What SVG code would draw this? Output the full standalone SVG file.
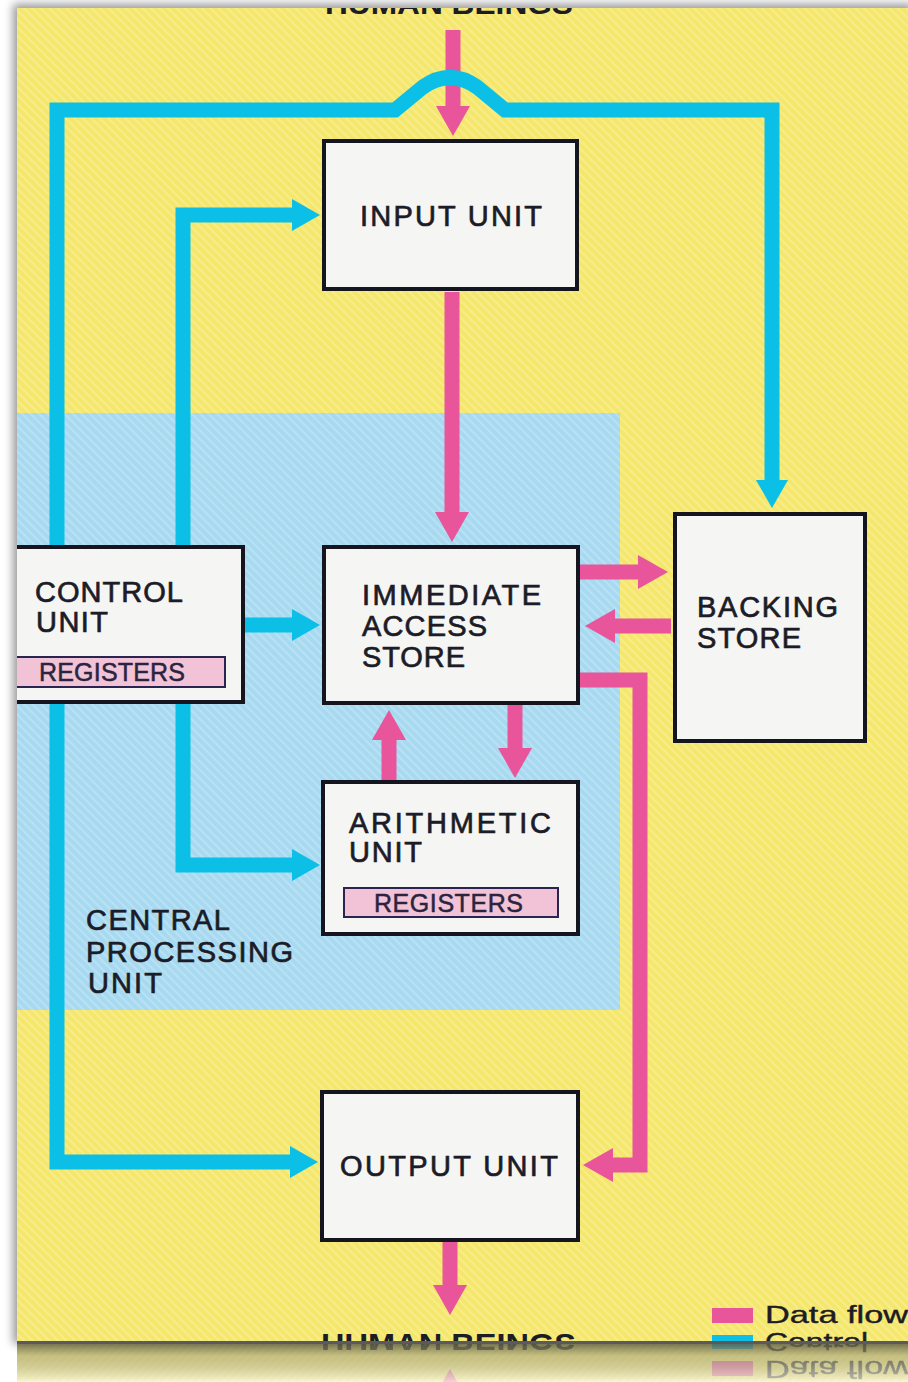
<svg xmlns="http://www.w3.org/2000/svg" xmlns:xlink="http://www.w3.org/1999/xlink" width="908" height="1382" viewBox="0 0 908 1382">
<defs>
<style>
.box{fill:#f5f5f3;stroke:#15151f;stroke-width:4}
.reg{fill:#f2c3d6;stroke:#2a2450;stroke-width:2}
.t{font-family:"Liberation Sans",Arial,sans-serif;font-size:29px;fill:#1c1c28;stroke:#1c1c28;stroke-width:0.7}
.ts{font-family:"Liberation Sans",Arial,sans-serif;font-size:25px;fill:#2a2440;stroke:#2a2440;stroke-width:0.5}
.hb{font-family:"Liberation Sans",Arial,sans-serif;font-size:30px;font-weight:bold;fill:#1c1c24}
.lg{font-family:"Liberation Sans",Arial,sans-serif;font-size:23px;fill:#1c1c24;stroke:#1c1c24;stroke-width:0.4}
.cy{fill:none;stroke:#0bbfe6;stroke-width:15;stroke-linejoin:miter}
.pk{fill:none;stroke:#e8559a;stroke-width:15;stroke-linejoin:miter}
</style>
<pattern id="hatch" width="6" height="6" patternUnits="userSpaceOnUse" patternTransform="rotate(45)">
<rect width="6" height="2" fill="#ffffff" opacity="0.22"/>
</pattern>
<marker id="ac" viewBox="0 0 28 32" markerWidth="28" markerHeight="32" refX="2" refY="16" orient="auto-start-reverse" markerUnits="userSpaceOnUse">
<path d="M0,0 L28,16 L0,32 z" fill="#0bbfe6"/>
</marker>
<marker id="ap" viewBox="0 0 30 34" markerWidth="30" markerHeight="34" refX="2" refY="17" orient="auto-start-reverse" markerUnits="userSpaceOnUse">
<path d="M0,0 L30,17 L0,34 z" fill="#e8559a"/>
</marker>
<clipPath id="sceneClip"><rect x="17" y="8" width="891" height="1334"/></clipPath>
<clipPath id="reflClip"><rect x="17" y="1342" width="891" height="40"/></clipPath>
<linearGradient id="reflGrad" x1="0" y1="0" x2="0" y2="1">
<stop offset="0" stop-color="#3c3c2c" stop-opacity="0.75"/>
<stop offset="0.35" stop-color="#5a5a3c" stop-opacity="0.3"/>
<stop offset="1" stop-color="#fffff5" stop-opacity="0.55"/>
</linearGradient>
<filter id="blur" x="-5%" y="-5%" width="110%" height="110%"><feGaussianBlur stdDeviation="5"/></filter>
</defs>

<rect x="0" y="0" width="908" height="1382" fill="#ffffff"/>
<rect x="13" y="4" width="900" height="1340" fill="#000" opacity="0.4" filter="url(#blur)"/>

<g id="scene" clip-path="url(#sceneClip)">
<rect x="17" y="8" width="891" height="1334" fill="#f5e76c"/>
<rect x="17" y="413" width="603" height="597" fill="#a7d9f0"/>
<rect x="17" y="8" width="891" height="1334" fill="url(#hatch)"/>

<text class="hb" x="325" y="14" textLength="248" lengthAdjust="spacingAndGlyphs">HUMAN BEINGS</text>
<text class="hb" x="321" y="1354" textLength="255" lengthAdjust="spacingAndGlyphs">HUMAN BEINGS</text>

<g id="cpu-label">
<text class="t" x="86" y="930" textLength="144">CENTRAL</text>
<text class="t" x="86" y="962" textLength="207">PROCESSING</text>
<text class="t" x="88" y="993" textLength="74">UNIT</text>
</g>

<g id="connectors">
<path class="pk" d="M453,30 L453,108" marker-end="url(#ap)"/>
<path class="pk" d="M452,292 L452,514" marker-end="url(#ap)"/>
<path class="pk" d="M580,572 L640,572" marker-end="url(#ap)"/>
<path class="pk" d="M671,626 L613,626" marker-end="url(#ap)"/>
<path class="pk" d="M580,680 L640,680 L640,1165 L611,1165" marker-end="url(#ap)"/>
<path class="pk" d="M389,780 L389,738" marker-end="url(#ap)"/>
<path class="pk" d="M515,705 L515,750" marker-end="url(#ap)"/>
<path class="pk" d="M450,1242 L450,1287" marker-end="url(#ap)"/>
<path class="cy" d="M772,482 L772,110 L505,110 L477,87 Q450,68 423,87 L395,110 L57,110 L57,1162 L292,1162" marker-start="url(#ac)" marker-end="url(#ac)"/>
<path class="cy" d="M294,215 L183,215 L183,865 L294,865" marker-start="url(#ac)" marker-end="url(#ac)"/>
<path class="cy" d="M245,625 L294,625" marker-end="url(#ac)"/>
</g>

<g id="input-unit">
<rect class="box" x="324" y="141" width="253" height="148"/>
<text class="t" x="360" y="226" textLength="182">INPUT UNIT</text>
</g>

<g id="control-unit">
<rect class="box" x="5" y="547" width="238" height="155"/>
<text class="t" x="35" y="602" textLength="148">CONTROL</text>
<text class="t" x="36" y="632" textLength="72">UNIT</text>
<rect class="reg" x="5" y="657" width="220" height="30"/>
<text class="ts" x="39" y="681" textLength="146">REGISTERS</text>
</g>

<g id="immediate-access-store">
<rect class="box" x="324" y="547" width="254" height="156"/>
<text class="t" x="362" y="605" textLength="179">IMMEDIATE</text>
<text class="t" x="362" y="636" textLength="125">ACCESS</text>
<text class="t" x="362" y="667" textLength="103">STORE</text>
</g>

<g id="backing-store">
<rect class="box" x="675" y="514" width="190" height="227"/>
<text class="t" x="697" y="617" textLength="141">BACKING</text>
<text class="t" x="697" y="648" textLength="104">STORE</text>
</g>

<g id="arithmetic-unit">
<rect class="box" x="323" y="782" width="255" height="152"/>
<text class="t" x="349" y="833" textLength="202">ARITHMETIC</text>
<text class="t" x="349" y="862" textLength="73">UNIT</text>
<rect class="reg" x="344" y="888" width="214" height="29"/>
<text class="ts" x="374" y="912" textLength="149">REGISTERS</text>
</g>

<g id="output-unit">
<rect class="box" x="322" y="1092" width="256" height="148"/>
<text class="t" x="340" y="1176" textLength="218">OUTPUT UNIT</text>
</g>

<g id="legend">
<rect x="712" y="1308" width="41" height="15" fill="#e8559a"/>
<text class="lg" x="765" y="1323" textLength="143" lengthAdjust="spacingAndGlyphs">Data flow</text>
<rect x="712" y="1335" width="41" height="15" fill="#0bbfe6"/>
<text class="lg" x="765" y="1350" textLength="103" lengthAdjust="spacingAndGlyphs">Control</text>
</g>
</g>

<g id="reflection" clip-path="url(#reflClip)">
<rect x="17" y="1342" width="891" height="40" fill="#f6f2cf"/>
<use xlink:href="#scene" href="#scene" transform="matrix(1 0 0 -1 0 2684)" opacity="0.55"/>
<rect x="17" y="1342" width="891" height="40" fill="url(#reflGrad)"/>
</g>
<rect x="17" y="1341" width="891" height="3" fill="#5a5a5e"/>
</svg>
